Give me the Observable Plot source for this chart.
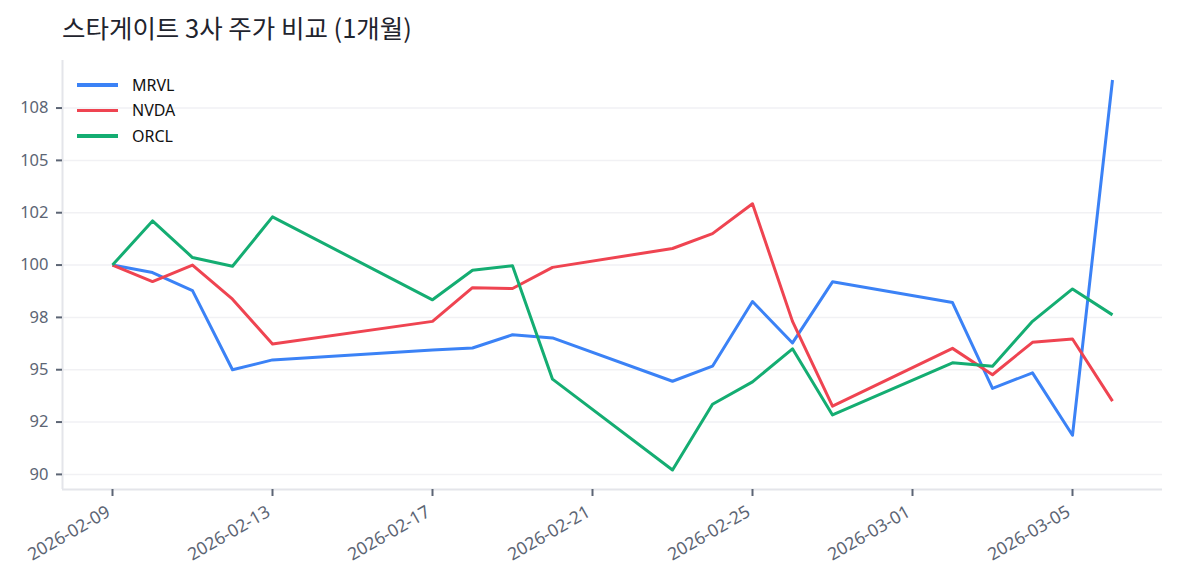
<!DOCTYPE html>
<html>
<head>
<meta charset="utf-8">
<script src="https://cdn.jsdelivr.net/npm/d3@7"></script>
<script src="https://cdn.jsdelivr.net/npm/@observablehq/plot@0.6"></script>
<style>
  html, body { margin: 0; padding: 0; background: #ffffff; }
  #wrap { position: relative; width: 1177px; height: 585px; overflow: hidden;
          font-family: "Noto Sans", "Noto Sans CJK KR", sans-serif; }
  #title { position: absolute; left: 62px; top: 14px; font-size: 25.5px; line-height: 25px; color: #1f242e;
           font-family: "Noto Sans CJK KR", "Noto Sans", sans-serif; white-space: nowrap; }
  #chart { position: absolute; left: 0; top: 50px; }
  #chart svg text { font-family: "Noto Sans", sans-serif !important; }
  #legend { position: absolute; left: 77px; top: 72px; font-size: 16px; color: #111111; }
  .row { display: flex; align-items: center; height: 25.5px; }
  .swatch { width: 41px; height: 3.5px; margin-right: 14px; }
</style>
</head>
<body>
<div id="wrap">
  <div id="title">스타게이트 3사 주가 비교 (1개월)</div>
  <div id="chart"></div>
  <div id="legend"></div>
</div>
<script>
// ---- data ----
const dates = ["2026-02-09","2026-02-10","2026-02-11","2026-02-12","2026-02-13",
               "2026-02-17","2026-02-18","2026-02-19","2026-02-20","2026-02-23",
               "2026-02-24","2026-02-25","2026-02-26","2026-02-27","2026-03-02",
               "2026-03-03","2026-03-04","2026-03-05","2026-03-06"];
const MRVL = [100, 99.64, 98.78, 95.00, 95.47, 95.94, 96.04, 96.67, 96.52, 94.45,
              95.17, 98.26, 96.28, 99.20, 98.21, 94.11, 94.85, 91.87, 108.84];
const NVDA = [100, 99.21, 100.00, 98.37, 96.23, 97.31, 98.92, 98.88, 99.89, 100.79,
              101.50, 102.93, 97.31, 93.26, 96.02, 94.76, 96.31, 96.47, 93.50];
const ORCL = [100, 102.11, 100.36, 99.94, 102.30, 98.34, 99.75, 99.97, 94.55, 90.21,
              93.35, 94.42, 96.00, 92.84, 95.33, 95.17, 97.31, 98.86, 97.62];
const seriesNames = ["MRVL", "NVDA", "ORCL"];
const seriesColors = ["#3b82f6", "#ef4451", "#14ad72"];
const yTicks = [90, 92.5, 95, 97.5, 100, 102.5, 105, 107.5];
const yTickLabels = ["90", "92", "95", "98", "100", "102", "105", "108"];
const xTicks = ["2026-02-09","2026-02-13","2026-02-17","2026-02-21","2026-02-25","2026-03-01","2026-03-05"];
const xTickLabels = ["2026-02-09","2026-02-13","2026-02-17","2026-02-21","2026-02-25","2026-03-01","2026-03-05"];

// ---- build table ----
const seriesValues = [MRVL, NVDA, ORCL];
const rows = [];
seriesNames.forEach((name, s) => {
  dates.forEach((d, i) => rows.push({ series: name, date: new Date(d + "T00:00:00Z"), value: seriesValues[s][i] }));
});
const xTickDates = xTicks.map(d => new Date(d + "T00:00:00Z"));
const xLabelMap = new Map(xTickDates.map((d, i) => [+d, xTickLabels[i]]));
const yLabelMap = new Map(yTicks.map((v, i) => [v, yTickLabels[i]]));

const t0 = new Date(dates[0] + "T00:00:00Z");
const t1 = new Date(dates[dates.length - 1] + "T00:00:00Z");
const span = t1 - t0;
const xDomain = [new Date(+t0 - span * 0.05), new Date(+t1 + span * 0.05)];
const allVals = MRVL.concat(NVDA, ORCL);
const vMin = d3.min(allVals), vMax = d3.max(allVals);
const vPad = (vMax - vMin) * 0.05;
const yDomain = [vMin - vPad, vMax + vPad];

const spineColor = "#e4e5ea";
const tickColor = "#5c6574";

const chart = Plot.plot({
  width: 1177,
  height: 535,
  marginLeft: 62,
  marginRight: 15,
  marginTop: 10,
  marginBottom: 96,
  style: { fontFamily: "Noto Sans, sans-serif", fontSize: "16px", color: tickColor, background: "#ffffff", overflow: "visible" },
  x: { type: "utc", domain: xDomain, label: null },
  y: { domain: yDomain, label: null },
  color: { domain: seriesNames, range: seriesColors },
  marks: [
    Plot.ruleY(yTicks, { stroke: "#f1f1f4", strokeWidth: 1.5 }),
    Plot.ruleX([xDomain[0]], { stroke: spineColor, strokeWidth: 2 }),
    Plot.ruleY([yDomain[0]], { stroke: spineColor, strokeWidth: 2 }),
    Plot.axisY({ ticks: yTicks, tickFormat: d => yLabelMap.get(d), tickSize: 6, tickPadding: 8, label: null,
                 stroke: tickColor, strokeWidth: 2, fill: tickColor, fontSize: 16.5 }),
    Plot.axisX({ ticks: xTickDates, tickFormat: d => xLabelMap.get(+d), tickSize: 7, tickPadding: 6, label: null,
                 tickRotate: -30, stroke: tickColor, strokeWidth: 2, fill: tickColor, fontSize: 17.5 }),
    Plot.lineY(rows, { x: "date", y: "value", z: "series", stroke: "series", strokeWidth: 3,
                       strokeLinejoin: "round", strokeLinecap: "butt" })
  ]
});
document.getElementById("chart").appendChild(chart);

// shift rotated x tick labels slightly down-left, like the reference
d3.select(chart).selectAll("g[aria-label='x-axis tick label']")
  .attr("transform", function () { return (this.getAttribute("transform") || "") + " translate(-4,8)"; });

// ---- legend ----
const legend = document.getElementById("legend");
seriesNames.forEach((name, i) => {
  const row = document.createElement("div");
  row.className = "row";
  const sw = document.createElement("div");
  sw.className = "swatch";
  sw.style.background = seriesColors[i];
  const lab = document.createElement("span");
  lab.textContent = name;
  row.appendChild(sw);
  row.appendChild(lab);
  legend.appendChild(row);
});
</script>
</body>
</html>
